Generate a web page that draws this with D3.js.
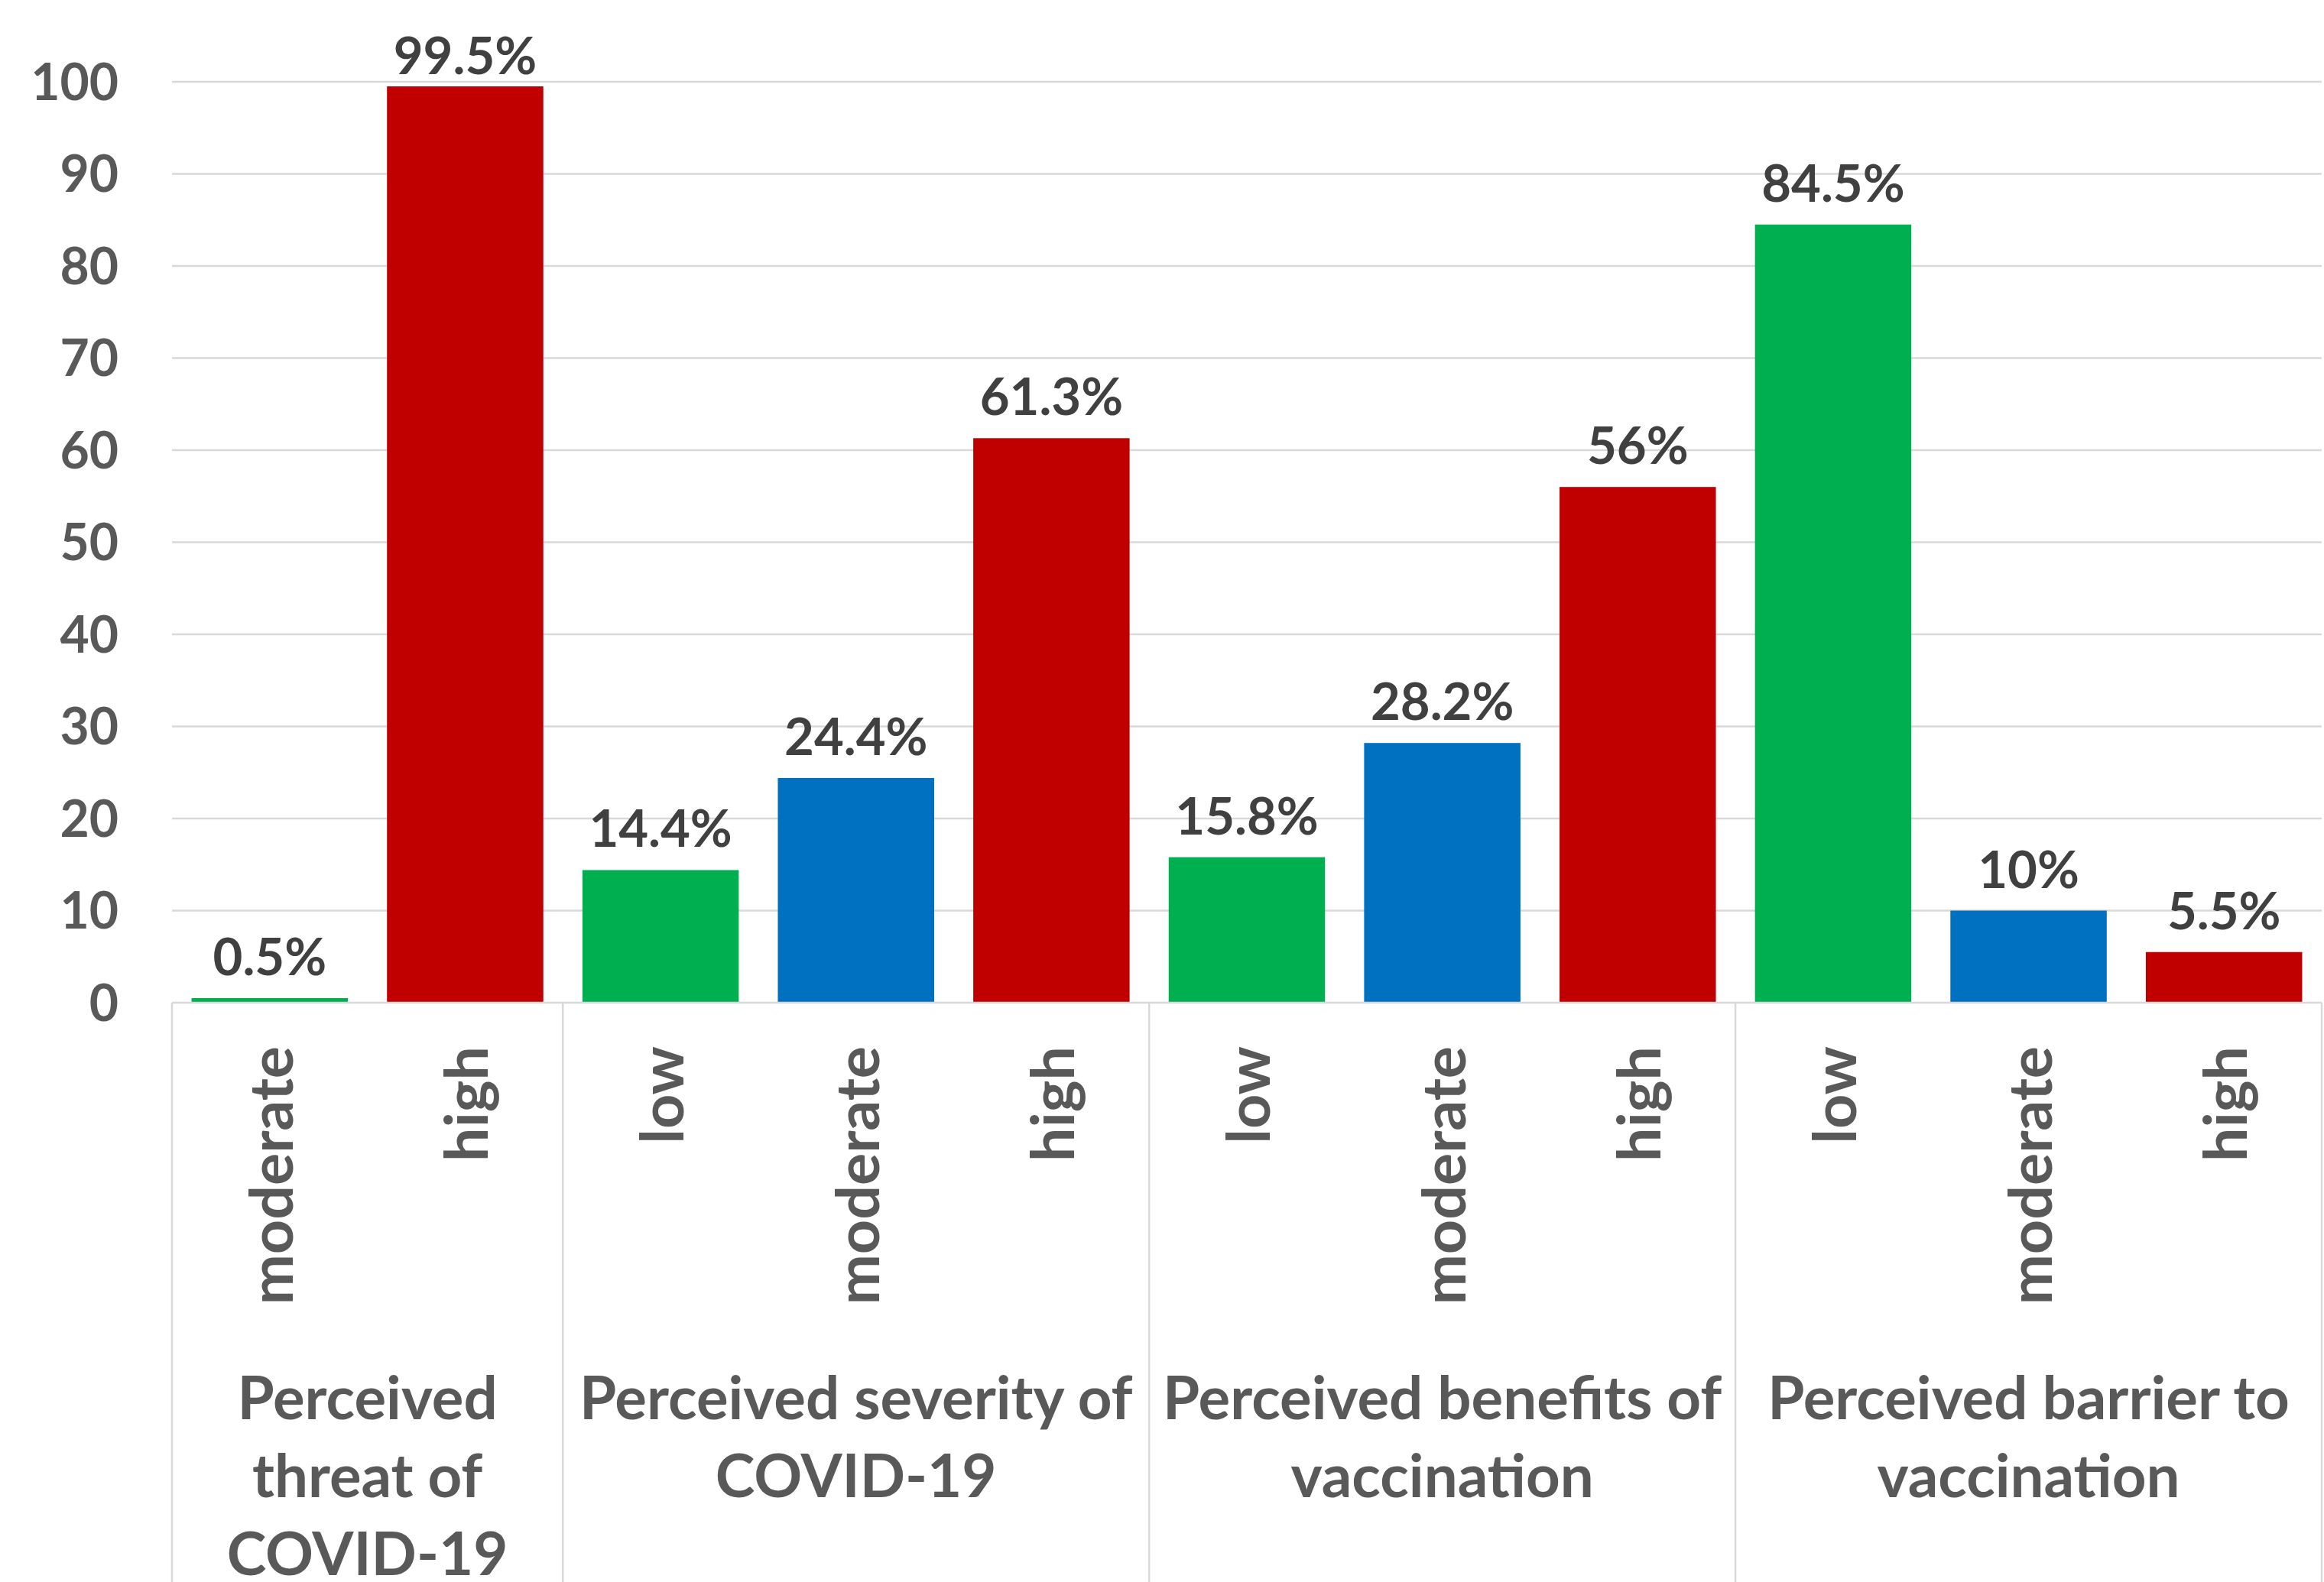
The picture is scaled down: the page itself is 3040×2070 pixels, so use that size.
<!DOCTYPE html>
<html>
<head>
<meta charset="utf-8">
<script src="https://cdn.jsdelivr.net/npm/d3@7"></script>
<style>
  body { margin: 0; background: #ffffff; }
  svg text { font-family: Lato, "Open Sans", sans-serif; font-weight: 700; }
</style>
</head>
<body>
<div id="chart"></div>
<script>
// chart data
let groups = [
    ['Perceived', 'threat of', 'COVID-19'],
    ['Perceived severity of', 'COVID-19'],
    ['Perceived benefits of', 'vaccination'],
    ['Perceived barrier to', 'vaccination']
];
let groupSizes = [2, 3, 3, 3];
let levels = ['moderate', 'high', 'low', 'moderate', 'high', 'low', 'moderate', 'high', 'low', 'moderate', 'high'];
let values = [0.5, 99.5, 14.4, 24.4, 61.3, 15.8, 28.2, 56, 84.5, 10, 5.5];
let valueLabels = ['0.5%', '99.5%', '14.4%', '24.4%', '61.3%', '15.8%', '28.2%', '56%', '84.5%', '10%', '5.5%'];
let yTicks = [0, 10, 20, 30, 40, 50, 60, 70, 80, 90, 100];

// colours follow the position of a bar inside its group
let palette = {2: ['#00B050', '#C00000'], 3: ['#00B050', '#0070C0', '#C00000']};

function draw_chart() {
    let width = 3040, height = 2070;
    let left = 225, right = 3037, top = 107, bottom = 1312;

    let svg = d3.select('#chart').append('svg')
        .attr('width', width)
        .attr('height', height)
        .style('background-color', '#FFFFFF');

    let bounds = [0];
    groupSizes.forEach(s => bounds.push(bounds[bounds.length - 1] + s));

    let barColors = [];
    groupSizes.forEach(s => palette[s].forEach(c => barColors.push(c)));

    let x = d3.scaleBand()
        .domain(d3.range(values.length))
        .range([left, right])
        .paddingInner(0.2)
        .paddingOuter(0.1);

    let y = d3.scaleLinear().domain([0, 100]).range([bottom, top]);

    // gridlines
    svg.append('g')
        .selectAll('line')
        .data(yTicks.slice(1))
        .enter()
        .append('line')
        .attr('x1', left).attr('x2', right)
        .attr('y1', d => y(d)).attr('y2', d => y(d))
        .attr('stroke', '#d9d9d9')
        .attr('stroke-width', 2.5);

    // y tick labels
    svg.append('g')
        .selectAll('text')
        .data(yTicks)
        .enter()
        .append('text')
        .attr('x', 155)
        .attr('y', d => y(d))
        .attr('dy', '0.36em')
        .attr('text-anchor', 'end')
        .attr('font-size', 66)
        .attr('fill', '#595959')
        .text(d => d);

    // bars
    svg.append('g')
        .selectAll('rect')
        .data(values)
        .enter()
        .append('rect')
        .attr('x', (d, i) => x(i))
        .attr('width', x.bandwidth())
        .attr('y', d => y(d))
        .attr('height', d => y(0) - y(d))
        .attr('fill', (d, i) => barColors[i]);

    // value labels
    svg.append('g')
        .selectAll('text')
        .data(values)
        .enter()
        .append('text')
        .attr('x', (d, i) => x(i) + x.bandwidth() / 2)
        .attr('y', d => Math.max(y(d) - 30, 97))
        .attr('text-anchor', 'middle')
        .attr('font-size', 67)
        .attr('fill', '#404040')
        .text((d, i) => valueLabels[i]);

    // category axis line and group separators
    let step = (right - left) / values.length;
    svg.append('line')
        .attr('x1', left).attr('x2', right)
        .attr('y1', bottom).attr('y2', bottom)
        .attr('stroke', '#d9d9d9')
        .attr('stroke-width', 2.5);

    svg.append('g')
        .selectAll('line')
        .data(bounds)
        .enter()
        .append('line')
        .attr('x1', d => left + d * step).attr('x2', d => left + d * step)
        .attr('y1', bottom).attr('y2', height)
        .attr('stroke', '#d9d9d9')
        .attr('stroke-width', 2.5);

    // rotated level labels
    svg.append('g')
        .selectAll('text')
        .data(levels)
        .enter()
        .append('text')
        .attr('transform', (d, i) => 'translate(' + (left + (i + 0.5) * step) + ',1369) rotate(-90)')
        .attr('dy', '0.38em')
        .attr('text-anchor', 'end')
        .attr('font-size', 79)
        .attr('fill', '#595959')
        .text(d => d);

    // group labels
    let gl = svg.append('g')
        .selectAll('text')
        .data(groups)
        .enter()
        .append('text')
        .attr('text-anchor', 'middle')
        .attr('font-size', 78)
        .attr('fill', '#595959');

    gl.each(function(lines, gi) {
        let cx = left + (bounds[gi] + groupSizes[gi] / 2) * step;
        d3.select(this).selectAll('tspan')
            .data(lines)
            .enter()
            .append('tspan')
            .attr('x', cx)
            .attr('y', (d, k) => 1857 + k * 102)
            .text(d => d);
    });
}

draw_chart();
</script>
</body>
</html>
